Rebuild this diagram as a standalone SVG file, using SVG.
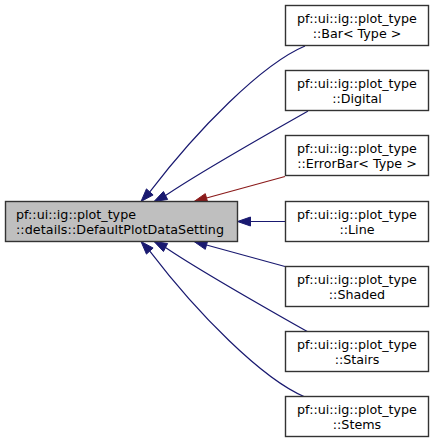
<svg xmlns="http://www.w3.org/2000/svg" width="433" height="444" viewBox="0 0 433 444">
<style>
.node rect{fill:#ffffff;stroke:#333333;stroke-width:1.4}
#main rect{fill:#bfbfbf}
text{font-family:"DejaVu Sans",Verdana,sans-serif;font-size:12.7px;fill:#000000}
.c{text-anchor:middle}
.e path{fill:none;stroke:#191970;stroke-width:1.2}
.e polygon{fill:#191970;stroke:#191970;stroke-width:1}
.e.r path{stroke:#8b1a1a}
.e.r polygon{fill:#8b1a1a;stroke:#8b1a1a}
</style>
<rect width="433" height="444" fill="#ffffff"/>
<g id="connectors">
<g class="e" id="edge-bar"><path d="M305,46 C262,64 197,130 149.8,191.9"/><polygon points="153.1,194.96 141,201.5 146.46,188.88"/></g>
<g class="e" id="edge-digital"><path d="M308,111 C285,124 200,172 165.5,195.5"/><polygon points="167.61,199.48 154,201.5 163.45,191.5"/></g>
<g class="e r" id="edge-errorbar"><path d="M285,176.5 L206.5,198"/><polygon points="207.72,202.29 194,201.5 205.28,193.63"/></g>
<g class="e" id="edge-line"><path d="M285,221.5 L250.5,221.5"/><polygon points="250.5,226 237.5,221.5 250.5,217"/></g>
<g class="e" id="edge-shaded"><path d="M285,266.5 L206.5,245"/><polygon points="207.72,240.71 194,241.5 205.28,249.37"/></g>
<g class="e" id="edge-stairs"><path d="M308,332 C285,319 200,271 165.5,247.5"/><polygon points="167.61,243.52 154,241.5 163.45,251.5"/></g>
<g class="e" id="edge-stems"><path d="M305,397 C262,379 197,313 149.8,251.1"/><polygon points="153.1,248.04 141,241.5 146.46,254.12"/></g>
</g>
<g class="node" id="main"><rect x="5.5" y="201.5" width="232" height="40"/><text x="16" y="219" textLength="120" lengthAdjust="spacing">pf::ui::ig::plot_type</text><text x="16" y="234" textLength="208" lengthAdjust="spacing">::details::DefaultPlotDataSetting</text></g>
<g class="node" id="bar"><rect x="285.5" y="5.5" width="143" height="40"/><text class="c" x="357" y="23">pf::ui::ig::plot_type</text><text class="c" x="357" y="38">::Bar&lt; Type &gt;</text></g>
<g class="node" id="digital"><rect x="285.5" y="70.5" width="143" height="40"/><text class="c" x="357" y="88">pf::ui::ig::plot_type</text><text class="c" x="357" y="103">::Digital</text></g>
<g class="node" id="errorbar"><rect x="285.5" y="135.5" width="143" height="40"/><text class="c" x="357" y="153">pf::ui::ig::plot_type</text><text class="c" x="357" y="168">::ErrorBar&lt; Type &gt;</text></g>
<g class="node" id="line"><rect x="285.5" y="201.5" width="143" height="40"/><text class="c" x="357" y="219">pf::ui::ig::plot_type</text><text class="c" x="357" y="234">::Line</text></g>
<g class="node" id="shaded"><rect x="285.5" y="266.5" width="143" height="40"/><text class="c" x="357" y="284">pf::ui::ig::plot_type</text><text class="c" x="357" y="299">::Shaded</text></g>
<g class="node" id="stairs"><rect x="285.5" y="331.5" width="143" height="40"/><text class="c" x="357" y="349">pf::ui::ig::plot_type</text><text class="c" x="357" y="364">::Stairs</text></g>
<g class="node" id="stems"><rect x="285.5" y="396.5" width="143" height="40"/><text class="c" x="357" y="414">pf::ui::ig::plot_type</text><text class="c" x="357" y="429">::Stems</text></g>
</svg>
